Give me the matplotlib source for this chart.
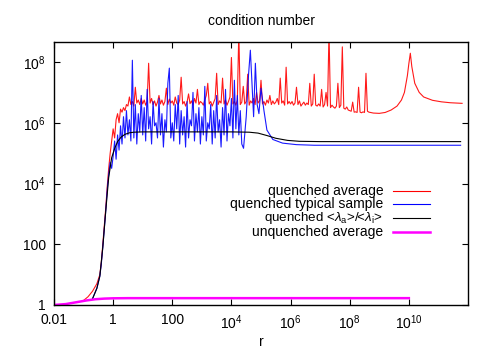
import numpy as np
import matplotlib
matplotlib.use("Agg")
import matplotlib.pyplot as plt
from matplotlib.ticker import FixedLocator, FixedFormatter, NullLocator

# ---------------- data (log10 values) ----------------
red_rise_lx = [-1.0, -0.85, -0.7, -0.55, -0.45, -0.4, -0.35, -0.3, -0.25, -0.2, -0.15, -0.1, -0.05]
red_rise_ly = [0.15, 0.27, 0.45, 0.7, 1.0, 1.4, 2.0, 2.6, 3.2, 3.9, 4.5, 5.0, 5.4]

red_noise_start, red_noise_end = 0.0, 8.65
red_noise_ly = [
    5.80, 5.50, 6.10, 6.30, 6.00, 6.45, 6.35, 6.50, 6.40, 6.60, 6.55, 6.85, 6.60, 6.70, 6.55, 7.17, 6.65, 6.75, 6.60, 6.80,
    6.62, 6.75, 6.58, 6.70, 7.96, 6.65, 6.80, 6.60, 6.72, 6.55, 6.68, 6.90, 6.62, 6.75, 6.58, 6.70, 7.14, 6.60, 6.78, 6.65,
    6.72, 6.58, 6.85, 6.65, 6.60, 6.75, 7.50, 6.62, 6.70, 6.55, 6.68, 6.95, 6.63, 6.72, 6.58, 6.80, 6.65, 7.10, 6.60, 6.70,
    6.66, 6.58, 6.75, 6.90, 7.30, 6.62, 6.70, 6.55, 6.68, 6.80, 7.63, 6.60, 6.72, 6.65, 7.47, 6.62, 6.75, 6.58, 6.70, 6.85,
    8.15, 6.62, 6.70, 6.58, 6.75, 9.00, 6.60, 6.68, 7.20, 6.62, 6.70, 7.60, 6.58, 6.72, 6.65, 6.80, 6.60, 7.00, 6.65, 6.72,
    7.40, 6.62, 6.70, 6.58, 6.75, 6.65, 6.90, 6.60, 6.72, 6.62, 6.68, 6.80, 6.60, 7.47, 6.65, 6.72, 6.58, 7.83, 6.62, 6.70,
    6.62, 6.70, 6.58, 6.65, 7.17, 6.60, 6.72, 6.55, 6.62, 6.68, 6.58, 6.65, 6.60, 7.30, 6.55, 6.62, 7.60, 6.58, 6.55, 6.62,
    6.55, 7.10, 6.52, 6.60, 7.00, 6.55, 9.00, 6.50, 6.58, 6.52, 6.48, 6.55, 7.30, 6.50, 6.58, 8.50, 6.48, 6.45, 6.52, 6.42,
    6.40, 6.38, 6.68, 6.35, 6.36, 6.34, 7.17, 6.35, 6.33, 6.36, 6.34, 7.63, 6.38, 6.35,
]
red_tail_lx = [8.7, 8.8, 9.0, 9.2, 9.4, 9.6, 9.75, 9.85, 9.95, 10.0, 10.05, 10.1, 10.2, 10.35, 10.5, 10.8, 11.1, 11.4, 11.8]
red_tail_ly = [6.34, 6.32, 6.31, 6.34, 6.42, 6.55, 6.75, 7.0, 7.55, 7.95, 8.29, 7.85, 7.3, 7.0, 6.85, 6.74, 6.69, 6.66, 6.64]

blue_rise_lx = [-0.7, -0.55, -0.45, -0.4, -0.35, -0.3, -0.25, -0.2, -0.15, -0.1, -0.05]
blue_rise_ly = [0.2, 0.55, 0.95, 1.35, 1.9, 2.5, 3.1, 3.8, 4.3, 4.7, 4.5]

blue_noise_start, blue_noise_end = 0.0, 4.35
blue_noise_ly = [
    4.9, 5.4, 4.8, 5.6, 5.1, 5.9, 5.3, 6.2, 5.5, 6.4, 5.6, 6.1, 5.4, 8.06, 5.5, 6.6, 5.3, 6.3, 5.7, 6.9,
    5.6, 6.5, 5.4, 7.1, 5.8, 6.2, 5.3, 6.7, 5.9, 6.0, 5.5, 6.8, 5.6, 6.3, 5.2, 6.1, 5.7, 7.3, 7.8, 5.5,
    6.0, 5.4, 6.6, 5.8, 6.9, 5.3, 6.4, 5.6, 6.2, 5.2, 6.7, 5.5, 6.1, 5.9, 7.0, 5.4, 6.3, 5.7, 6.5, 5.3,
    6.2, 5.6, 7.2, 5.4, 6.0, 5.8, 6.6, 5.3, 6.4, 5.5, 6.9, 5.7, 6.1, 5.2, 6.5, 5.6, 7.1, 5.4, 6.3, 5.9,
    6.8, 5.5, 7.4, 5.8, 6.9, 5.6, 6.4, 5.3,
]
blue_tail_lx = [4.41, 4.5, 4.58, 4.64, 4.70, 4.75, 4.81, 4.87, 4.93, 5.0, 5.1, 5.2, 5.4, 5.73, 6.2, 6.8, 8.0, 10.0, 11.75]
blue_tail_ly = [5.16, 6.2, 7.6, 8.39, 7.2, 6.2, 7.96, 6.6, 6.3, 7.14, 6.4, 5.76, 5.45, 5.33, 5.28, 5.26, 5.26, 5.26, 5.26]

black_lx = [-0.7, -0.55, -0.45, -0.35, -0.25, -0.15, -0.05, 0.05, 0.15, 0.27, 0.4, 0.55, 0.7, 1.0, 2, 3, 4,
            4.6, 4.9, 5.2, 5.5, 5.9, 6.3, 7, 9, 11.75]
black_ly = [0.2, 0.55, 0.95, 1.9, 3.1, 4.2, 4.85, 5.15, 5.38, 5.53, 5.62, 5.67, 5.69, 5.70, 5.70, 5.70, 5.70,
            5.69, 5.66, 5.58, 5.49, 5.42, 5.39, 5.38, 5.38, 5.38]

mag_lx = [-2, -1.6, -1.25, -0.9, -0.6, -0.3, 0, 0.5, 1, 3, 6, 10]
mag_ly = [0.0, 0.03, 0.09, 0.15, 0.19, 0.21, 0.22, 0.225, 0.225, 0.225, 0.225, 0.225]

xticks = [1e-2, 1, 1e2, 1e4, 1e6, 1e8, 1e10]
xticklabels = ["0.01", "1", "100", r"$10^4$", r"$10^6$", r"$10^8$", r"$10^{10}$"]
yticks = [1, 1e2, 1e4, 1e6, 1e8]
yticklabels = ["1", "100", r"$10^4$", r"$10^6$", r"$10^8$"]

labels = ["quenched average", "quenched typical sample",
          r"quenched <$\lambda_{\rm a}$>/<$\lambda_{\rm i}$>", "unquenched average"]
colors = ["#ff0000", "#0000ff", "#000000", "#ff00ff"]

# ---------------- assemble ----------------
red_lx = np.concatenate([red_rise_lx, np.linspace(red_noise_start, red_noise_end, len(red_noise_ly)), red_tail_lx])
red_ly = np.concatenate([red_rise_ly, red_noise_ly, red_tail_ly])
blue_lx = np.concatenate([blue_rise_lx, np.linspace(blue_noise_start, blue_noise_end, len(blue_noise_ly)), blue_tail_lx])
blue_ly = np.concatenate([blue_rise_ly, blue_noise_ly, blue_tail_ly])

plt.rcParams['font.family'] = ['Liberation Sans', 'DejaVu Sans']
plt.rcParams['mathtext.fontset'] = 'custom'
plt.rcParams['mathtext.rm'] = 'Liberation Sans'
plt.rcParams['mathtext.it'] = 'Liberation Sans:italic'

fig = plt.figure(figsize=(5, 3.5), dpi=100)
ax = fig.add_axes([0.108, 0.1286, 0.828, 0.7514])

series = [(red_lx, red_ly, 0.8, 0.9), (blue_lx, blue_ly, 0.8, 0.9),
          (np.array(black_lx), np.array(black_ly), 0.8, 1.0), (np.array(mag_lx), np.array(mag_ly), 1.8, 1.0)]
for (lx, ly, lw, al), c in zip(series, colors):
    ax.plot(10.0 ** np.asarray(lx), 10.0 ** np.asarray(ly), color=c, lw=lw, alpha=al)

ax.set_xscale('log')
ax.set_yscale('log')
ax.set_xlim(1e-2, 1e12)
ax.set_ylim(1, 10 ** 8.66)

ax.xaxis.set_major_locator(FixedLocator(xticks))
ax.xaxis.set_major_formatter(FixedFormatter(xticklabels))
ax.yaxis.set_major_locator(FixedLocator(yticks))
ax.yaxis.set_major_formatter(FixedFormatter(yticklabels))
ax.xaxis.set_minor_locator(NullLocator())
ax.yaxis.set_minor_locator(NullLocator())
ax.tick_params(direction='in', length=4, width=0.8, top=True, right=True, labelsize=10, pad=6)
for s in ax.spines.values():
    s.set_linewidth(1.0)

ax.set_title("condition number", fontsize=10, pad=12)
ax.set_xlabel("r", fontsize=10, labelpad=2)

# legend (gnuplot style: right-aligned text, sample line to the right)
leg_y = [0.435, 0.384, 0.331, 0.276]
leg_lw = [0.8, 0.8, 0.8, 1.8]
leg_fs = [10, 10, 9.6, 10]
for lab, c, yy, lw, fs in zip(labels, colors, leg_y, leg_lw, leg_fs):
    ax.text(0.795, yy, lab, transform=ax.transAxes, ha='right', va='center', fontsize=fs)
    ax.plot([0.819, 0.908], [yy, yy], transform=ax.transAxes, color=c, lw=lw)

fig.savefig("out.png", dpi=100)
